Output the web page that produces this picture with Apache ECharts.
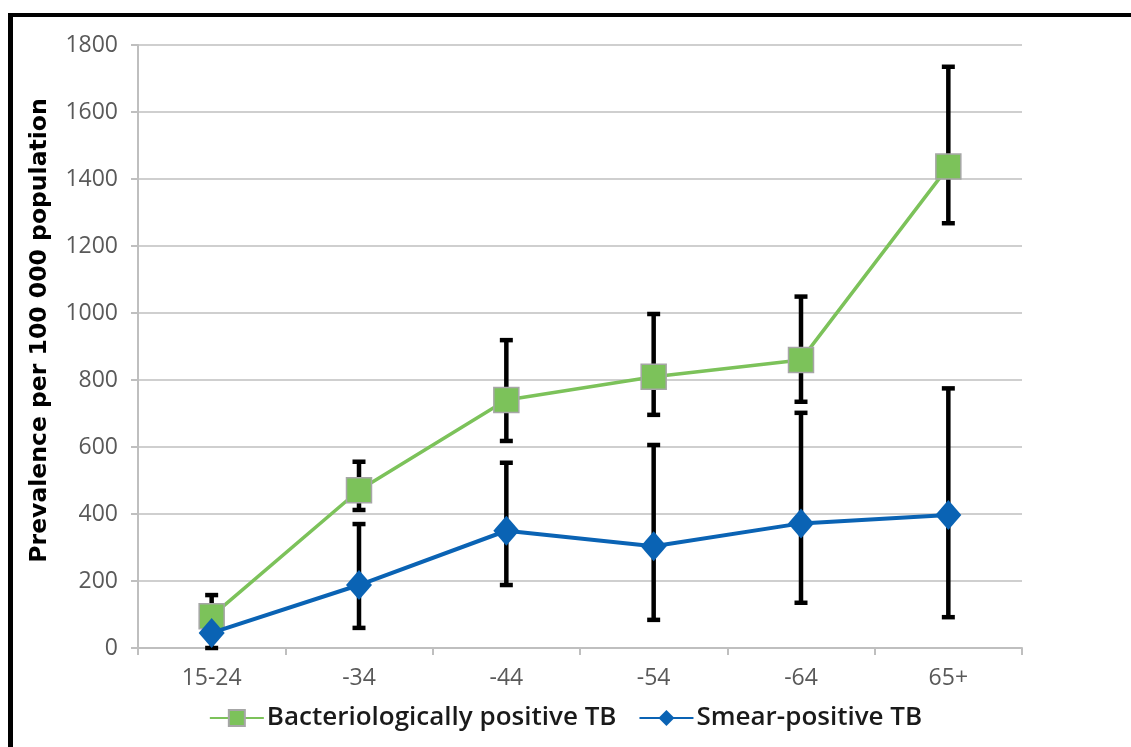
<!DOCTYPE html>
<html>
<head>
<meta charset="utf-8">
<script src="https://cdn.jsdelivr.net/npm/echarts@6/dist/echarts.min.js"></script>
<style>
html,body{margin:0;padding:0;background:#fff;}
#c{width:1131px;height:747px;}
</style>
</head>
<body>
<div id="c"></div>
<script>
const categories = ['15-24', '-34', '-44', '-54', '-64', '65+'];
const bactValues = [95, 471, 740, 810, 860, 1437];
const bactLow = [50, 412, 618, 696, 735, 1268];
const bactHigh = [158, 556, 919, 997, 1049, 1735];
const smearValues = [45, 188, 350, 304, 372, 397];
const smearLow = [0, 60, 188, 84, 135, 92];
const smearHigh = [110, 370, 553, 606, 702, 775];

const chart = echarts.init(document.getElementById('c'), null, {renderer: 'canvas'});

function errData(low, high) {
  return categories.map((c, i) => [i, low[i], high[i]]);
}
function errRender(params, api) {
  const x = api.value(0);
  const lo = api.coord([x, api.value(1)]);
  const hi = api.coord([x, api.value(2)]);
  const cw = 6.5;
  const st = {stroke: '#000', lineWidth: 4.5};
  return {
    type: 'group',
    children: [
      {type: 'line', shape: {x1: lo[0], y1: lo[1], x2: hi[0], y2: hi[1]}, style: st},
      {type: 'line', shape: {x1: hi[0] - cw, y1: hi[1], x2: hi[0] + cw, y2: hi[1]}, style: st},
      {type: 'line', shape: {x1: lo[0] - cw, y1: lo[1], x2: lo[0] + cw, y2: lo[1]}, style: st}
    ]
  };
}

const option = {
  backgroundColor: '#fff',
  animation: false,
  grid: {left: 138, right: 109, top: 45, bottom: 99, containLabel: false},
  xAxis: {
    type: 'category',
    data: categories,
    boundaryGap: true,
    axisLine: {lineStyle: {color: '#bfbfbf', width: 2}},
    axisTick: {show: true, length: 7, lineStyle: {color: '#bfbfbf', width: 2}},
    axisLabel: {color: '#595959', fontSize: 23, fontFamily: 'Open Sans', margin: 19}
  },
  yAxis: {
    type: 'value',
    min: 0, max: 1800, interval: 200,
    name: 'Prevalence per 100 000 population',
    nameLocation: 'middle',
    nameGap: 86,
    nameTextStyle: {color: '#000', fontSize: 23.5, fontWeight: 'bold', fontFamily: 'DejaVu Sans',
      padding: [0, 0, 0, 32]},
    axisLine: {show: true, lineStyle: {color: '#bfbfbf', width: 2}},
    axisTick: {show: true, length: 7, lineStyle: {color: '#bfbfbf', width: 2}},
    splitLine: {lineStyle: {color: '#bfbfbf', width: 1.5}},
    axisLabel: {color: '#595959', fontSize: 23, fontFamily: 'Open Sans', margin: 20,
      formatter: v => String(v)}
  },
  legend: {
    top: 700,
    left: 'center',
    itemGap: 22,
    itemWidth: 54,
    itemHeight: 20,
    textStyle: {color: '#1a1a1a', fontSize: 26, fontFamily: 'Open Sans', fontWeight: 600, padding: [0, 0, 0, -2]},
    data: ['Bacteriologically positive TB', 'Smear-positive TB']
  },
  graphic: [
    {type: 'rect', shape: {x: 8, y: 13, width: 1131, height: 4}, style: {fill: '#000'}, silent: true},
    {type: 'rect', shape: {x: 8, y: 13, width: 5, height: 740}, style: {fill: '#000'}, silent: true}
  ],
  series: [
    {
      type: 'custom', name: 'bactErr', renderItem: errRender, data: errData(bactLow, bactHigh), z: 1
    },
    {
      type: 'custom', name: 'smearErr', renderItem: errRender, data: errData(smearLow, smearHigh), z: 1
    },
    {
      type: 'line', name: 'Bacteriologically positive TB', data: bactValues,
      symbol: 'rect', symbolSize: 25,
      lineStyle: {color: '#7cc25a', width: 3.5},
      itemStyle: {color: '#7cc25a', borderColor: '#a6a6a6', borderWidth: 1.5},
      z: 3
    },
    {
      type: 'line', name: 'Smear-positive TB', data: smearValues,
      symbol: 'diamond', symbolSize: [26, 30],
      lineStyle: {color: '#0a63b4', width: 4},
      itemStyle: {color: '#0a63b4'},
      z: 4
    }
  ]
};
chart.setOption(option);
</script>
</body>
</html>
